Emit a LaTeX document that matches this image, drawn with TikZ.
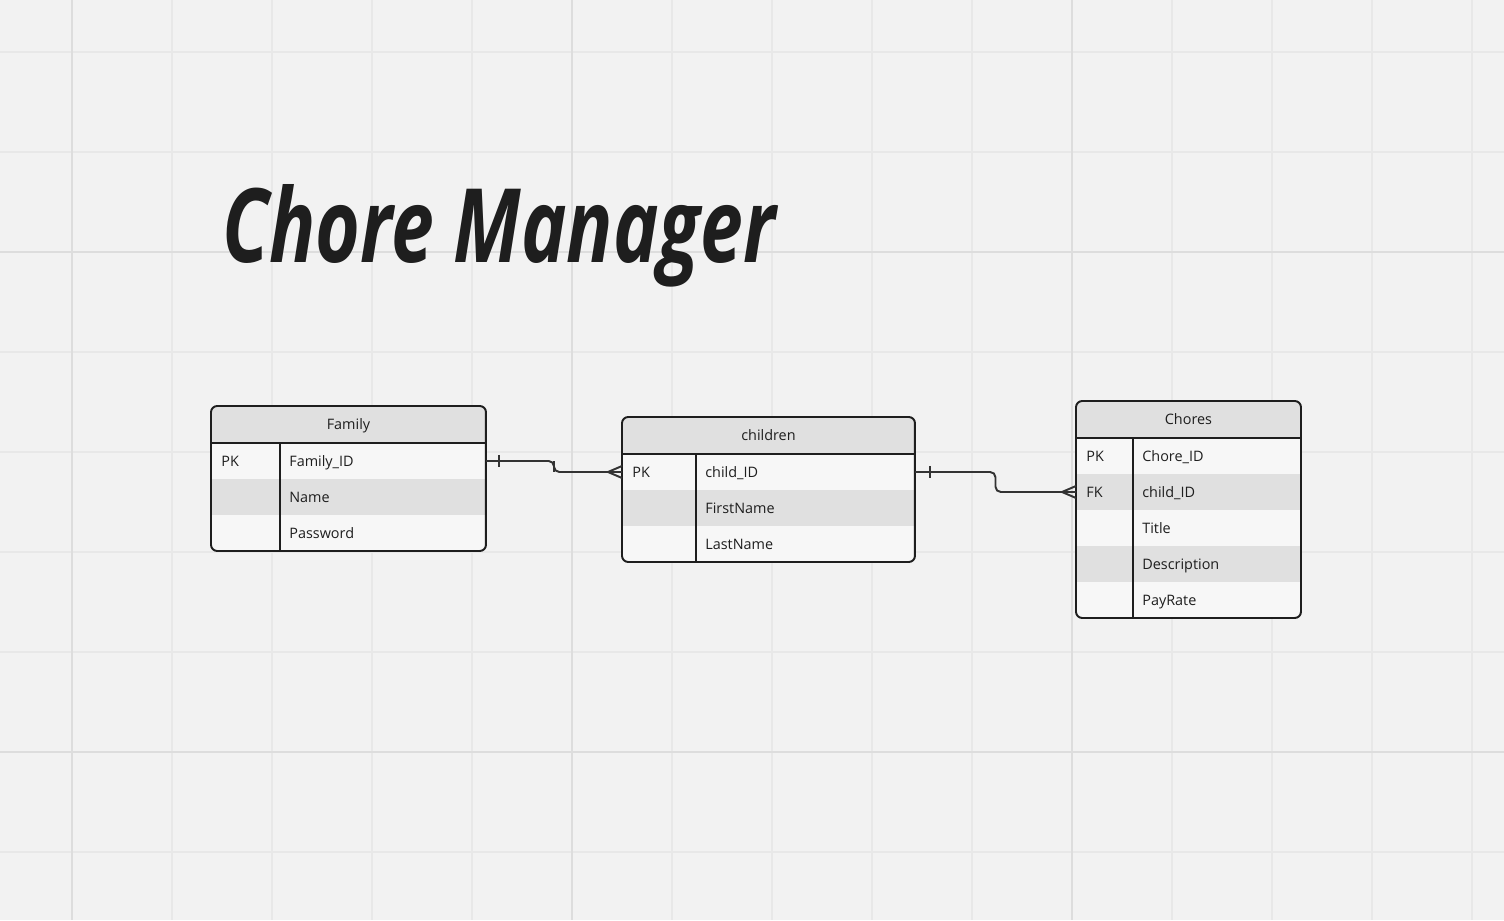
\documentclass[tikz,border=0pt]{standalone}
\usepackage{graphicx}
\usepackage{fontspec}
\setmainfont{Open Sans}
\usetikzlibrary{positioning,calc}
\definecolor{board}{HTML}{F2F2F2}
\definecolor{gridminor}{HTML}{E8E8E8}
\definecolor{gridmajor}{HTML}{DDDDDD}
\definecolor{headgray}{HTML}{E0E0E0}
\definecolor{rowlight}{HTML}{F7F7F7}
\definecolor{rowdark}{HTML}{E0E0E0}
\definecolor{ink}{HTML}{1E1E1E}
\definecolor{wire}{HTML}{333333}
\tikzset{font=\fontsize{8.2}{10}\selectfont}

\begin{document}
\begin{tikzpicture}[x=0.02cm, y=-0.02cm,
	minor/.style={draw=gridminor, line width=1pt},
	major/.style={draw=gridmajor, line width=1pt},
	tbl/.style={draw=ink, line width=1.1pt},
	conn/.style={draw=wire, line width=1.1pt},
	head/.style={fill=headgray, text=ink, inner sep=0pt, outer sep=0pt, minimum height=0.74cm, text height=5.85pt, text depth=0pt},
	light/.style={fill=rowlight, inner sep=0pt, outer sep=0pt, minimum height=0.72cm},
	dark/.style={fill=rowdark, inner sep=0pt, outer sep=0pt, minimum height=0.72cm},
	field/.style={text=ink, inner sep=0pt, text height=5.85pt, text depth=0pt}]

	% board and grid
	\fill[board] (0,0) rectangle (1504,920);
	\useasboundingbox (0,0) rectangle (1504,920);
	\foreach \x in {72,172,...,1472} \draw[minor] (\x,0) -- (\x,920);
	\foreach \y in {52,152,...,852} \draw[minor] (0,\y) -- (1504,\y);
	\foreach \x in {72,572,1072} \draw[major] (\x,0) -- (\x,920);
	\foreach \y in {252,752} \draw[major] (0,\y) -- (1504,\y);

	% title
	\node[anchor=base west, inner sep=0pt, text=ink] (title) at (222,262)
		{\resizebox{11.06cm}{1.56cm}{\bfseries\itshape Chore Manager}};

	% Family
	\coordinate (famTL) at (211,406);
	\begin{scope}
		\tikzstyle{every node}=[minimum width=5.5cm]
		\clip[rounded corners=3.5pt] (famTL) rectangle +(275,145);
		\node[head, anchor=north west] (fam) at (famTL) {Family};
		\node[light, below=0pt of fam] (famR1) {};
		\node[dark, below=0pt of famR1] (famR2) {};
		\node[light, below=0pt of famR2] (famR3) {};
	\end{scope}
	\node[field, right=0.2cm of famR1.west] (famK1) {PK};
	\node[field, right=1.56cm of famR1.west] (famF1) {Family\_ID};
	\node[field, right=1.56cm of famR2.west] (famF2) {Name};
	\node[field, right=1.56cm of famR3.west] (famF3) {Password};
	\draw[tbl] (fam.south west) -- (fam.south east);
	\draw[tbl] ($(famR1.north west)+(69,0)$) -- ($(famR3.south west)+(69,0)$);
	\draw[tbl, rounded corners=3.5pt] (fam.north west) rectangle (famR3.south east);

	% children
	\coordinate (chiTL) at (622,417);
	\begin{scope}
		\tikzstyle{every node}=[minimum width=5.86cm]
		\clip[rounded corners=3.5pt] (chiTL) rectangle +(293,145);
		\node[head, anchor=north west] (chi) at (chiTL) {children};
		\node[light, below=0pt of chi] (chiR1) {};
		\node[dark, below=0pt of chiR1] (chiR2) {};
		\node[light, below=0pt of chiR2] (chiR3) {};
	\end{scope}
	\node[field, right=0.2cm of chiR1.west] (chiK1) {PK};
	\node[field, right=1.66cm of chiR1.west] (chiF1) {child\_ID};
	\node[field, right=1.66cm of chiR2.west] (chiF2) {FirstName};
	\node[field, right=1.66cm of chiR3.west] (chiF3) {LastName};
	\draw[tbl] (chi.south west) -- (chi.south east);
	\draw[tbl] ($(chiR1.north west)+(74,0)$) -- ($(chiR3.south west)+(74,0)$);
	\draw[tbl, rounded corners=3.5pt] (chi.north west) rectangle (chiR3.south east);

	% Chores
	\coordinate (choTL) at (1076,401);
	\begin{scope}
		\tikzstyle{every node}=[minimum width=4.5cm]
		\clip[rounded corners=3.5pt] (choTL) rectangle +(225,217);
		\node[head, anchor=north west] (cho) at (choTL) {Chores};
		\node[light, below=0pt of cho] (choR1) {};
		\node[dark, below=0pt of choR1] (choR2) {};
		\node[light, below=0pt of choR2] (choR3) {};
		\node[dark, below=0pt of choR3] (choR4) {};
		\node[light, below=0pt of choR4] (choR5) {};
	\end{scope}
	\node[field, right=0.2cm of choR1.west] (choK1) {PK};
	\node[field, right=0.2cm of choR2.west] (choK2) {FK};
	\node[field, right=1.32cm of choR1.west] (choF1) {Chore\_ID};
	\node[field, right=1.32cm of choR2.west] (choF2) {child\_ID};
	\node[field, right=1.32cm of choR3.west] (choF3) {Title};
	\node[field, right=1.32cm of choR4.west] (choF4) {Description};
	\node[field, right=1.32cm of choR5.west] (choF5) {PayRate};
	\draw[tbl] (cho.south west) -- (cho.south east);
	\draw[tbl] ($(choR1.north west)+(57,0)$) -- ($(choR5.south west)+(57,0)$);
	\draw[tbl, rounded corners=3.5pt] (cho.north west) rectangle (choR5.south east);

	% relations: one -> many
	\draw[conn, rounded corners=3pt] (famR1.east) -| ($(famR1.east)!.5!(chiR1.west)$) |- (chiR1.west);
	\draw[conn] ($(famR1.east)+(13,-6)$) -- ($(famR1.east)+(13,6)$);
	\draw[conn] ($(chiR1.west)+(0,-6)$) -- ($(chiR1.west)+(-14,0)$) -- ($(chiR1.west)+(0,6)$);

	\draw[conn, rounded corners=3pt] (chiR1.east) -| ($(chiR1.east)!.5!(choR2.west)$) |- (choR2.west);
	\draw[conn] ($(chiR1.east)+(15,-6)$) -- ($(chiR1.east)+(15,6)$);
	\draw[conn] ($(choR2.west)+(0,-6)$) -- ($(choR2.west)+(-14,0)$) -- ($(choR2.west)+(0,6)$);
\end{tikzpicture}
\end{document}
